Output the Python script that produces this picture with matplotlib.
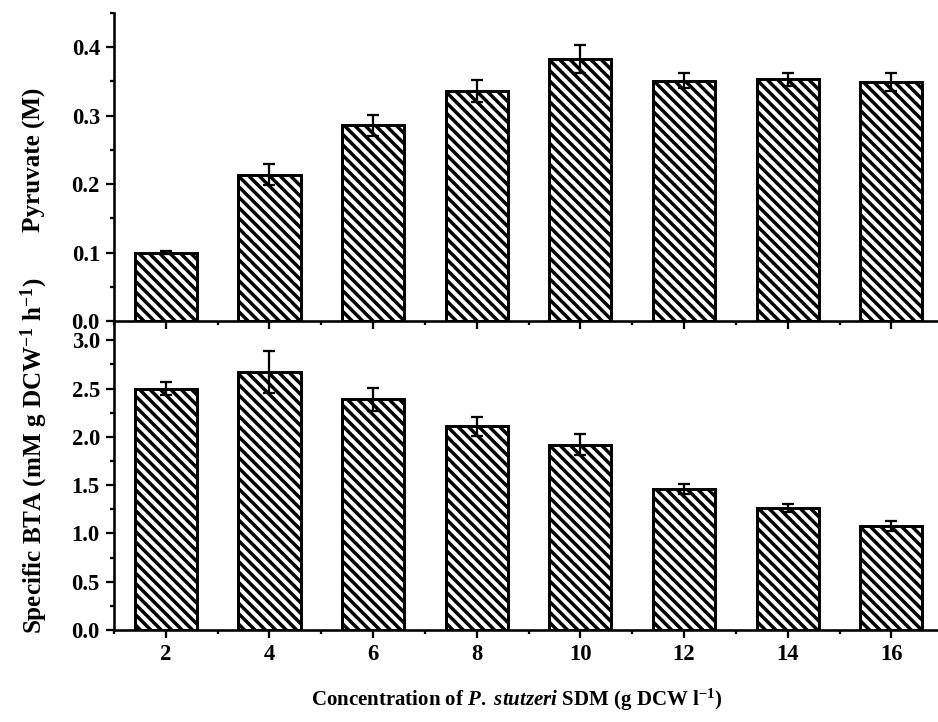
import matplotlib
matplotlib.use("Agg")
import matplotlib.pyplot as plt
from matplotlib.ticker import MultipleLocator, FormatStrFormatter

# data
conc = [2, 4, 6, 8, 10, 12, 14, 16]
pyruvate = [0.100, 0.214, 0.286, 0.336, 0.383, 0.351, 0.353, 0.349]
pyruvate_err = [0.002, 0.016, 0.015, 0.016, 0.020, 0.011, 0.010, 0.013]
bta = [2.50, 2.67, 2.39, 2.11, 1.92, 1.46, 1.26, 1.08]
bta_err = [0.07, 0.22, 0.12, 0.10, 0.11, 0.05, 0.04, 0.05]

plt.rcParams["font.family"] = ["Liberation Serif", "DejaVu Serif"]
plt.rcParams["font.weight"] = "bold"
plt.rcParams["mathtext.fontset"] = "custom"
plt.rcParams["mathtext.rm"] = "Liberation Serif:bold"
plt.rcParams["mathtext.it"] = "Liberation Serif:italic:bold"
plt.rcParams["mathtext.bf"] = "Liberation Serif:bold"
plt.rcParams["hatch.linewidth"] = 2.0

DPI = 125
fig = plt.figure(figsize=(938 / DPI, 722 / DPI), dpi=DPI, facecolor="white")

ax1 = fig.add_axes([0.1215, 0.5554, 0.8785, 0.4266])
ax2 = fig.add_axes([0.1215, 0.1274, 0.8785, 0.4280])
ax2.patch.set_facecolor("none")


def style_axis(ax, vals, errs, ymax, major, minor):
    ax.bar(conc, vals, width=1.2, facecolor="white", edgecolor="black",
           linewidth=1.7, hatch="\\\\\\\\", zorder=2)
    ax.errorbar(conc, vals, yerr=errs, fmt="none", ecolor="black",
                elinewidth=1.3, capsize=3.4, capthick=1.3, zorder=3)
    ax.set_xlim(1, 16.9)
    ax.set_ylim(0, ymax)
    ax.xaxis.set_major_locator(MultipleLocator(2))
    ax.xaxis.set_minor_locator(MultipleLocator(1))
    ax.yaxis.set_major_locator(MultipleLocator(major))
    ax.yaxis.set_minor_locator(MultipleLocator(minor))
    ax.yaxis.set_major_formatter(FormatStrFormatter("%.1f"))
    for side in ("top", "right"):
        ax.spines[side].set_visible(False)
    for side in ("left", "bottom"):
        ax.spines[side].set_linewidth(1.5)
    ax.tick_params(which="major", direction="out", length=4.6, width=1.3,
                   labelsize=13, pad=3.5)
    ax.tick_params(which="minor", direction="out", length=2.5, width=1.3)


style_axis(ax1, pyruvate, pyruvate_err, 0.45, 0.1, 0.05)
style_axis(ax2, bta, bta_err, 3.2, 0.5, 0.25)
ax1.tick_params(axis="x", labelbottom=False)

fig.text(0.037, 0.778, "Pyruvate (M)", rotation=90, ha="center", va="center",
         fontsize=14.5, fontweight="bold")
fig.text(0.037, 0.368, r"Specific BTA (mM g DCW$^{-1}$ h$^{-1}$)", rotation=90,
         ha="center", va="center", fontsize=14.5, fontweight="bold")
fig.text(0.551, 0.030, r"Concentration of $\mathit{P.}$ $\mathit{stutzeri}$ SDM (g DCW l$^{-1}$)",
         ha="center", va="center", fontsize=12, fontweight="bold")

fig.savefig("out.png", dpi=DPI, facecolor="white")
